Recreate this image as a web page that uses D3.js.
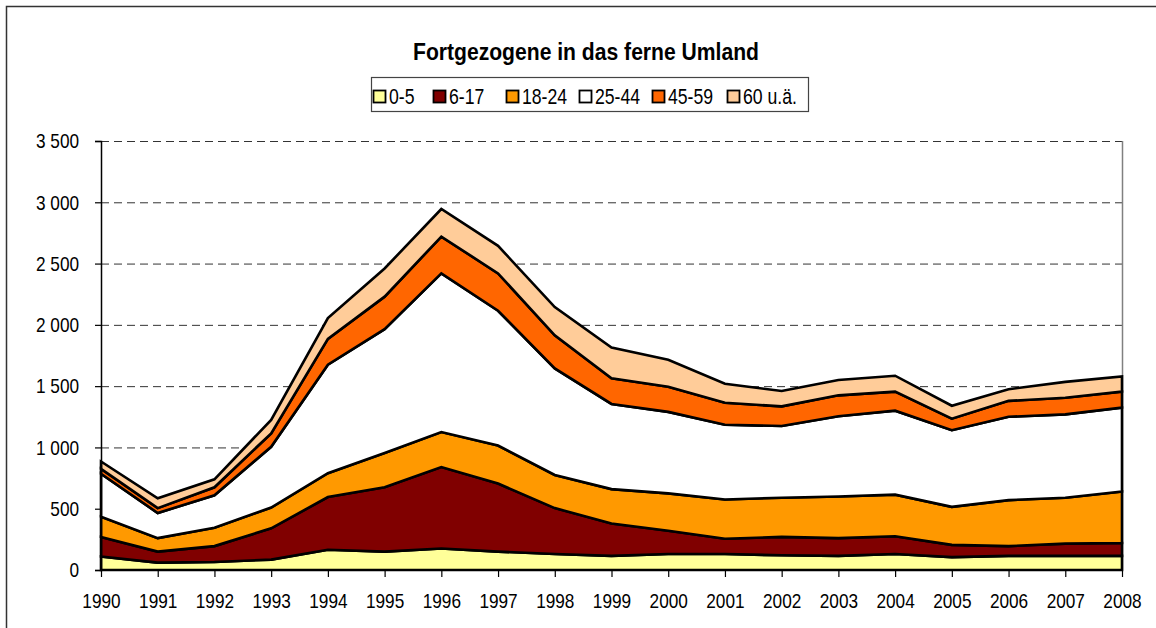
<!DOCTYPE html>
<html>
  <head>
    <meta charset="utf-8">
    <title>Fortgezogene in das ferne Umland</title>
    <style>
      body { margin: 0; background: #fff; }
      text { font-family: "Liberation Sans", Arial, sans-serif; fill: #000; }
    </style>
  </head>
  <body>
    <div><svg id='chart'/></div>
  </body>
  <script type="text/javascript" src="https://cdn.jsdelivr.net/npm/d3@7"></script>
  <script type="text/javascript">
    // Daten
    const years = ['1990', '1991', '1992', '1993', '1994', '1995', '1996', '1997', '1998', '1999',
                   '2000', '2001', '2002', '2003', '2004', '2005', '2006', '2007', '2008'];
    const groups = ['0-5', '6-17', '18-24', '25-44', '45-59', '60 u.ä.'];
    const age0to5   = [110, 60, 65, 85, 165, 150, 175, 150, 130, 115, 130, 130, 120, 115, 130, 105, 115, 115, 115];
    const age6to17  = [160, 90, 130, 255, 430, 525, 665, 555, 375, 265, 190, 125, 150, 145, 145, 100, 80, 100, 105];
    const age18to24 = [165, 110, 150, 170, 195, 280, 285, 310, 270, 280, 305, 320, 320, 340, 340, 310, 375, 375, 420];
    const age25to44 = [350, 205, 265, 495, 885, 1010, 1295, 1100, 870, 695, 665, 610, 585, 655, 685, 625, 680, 680, 685];
    const age45to59 = [40, 40, 65, 110, 210, 265, 300, 305, 270, 210, 205, 180, 160, 170, 155, 95, 130, 135, 130];
    const age60plus = [60, 80, 65, 110, 170, 230, 225, 225, 230, 250, 220, 155, 125, 125, 130, 105, 95, 130, 125];
    const yTicks = [0, 500, 1000, 1500, 2000, 2500, 3000, 3500];
    const colors = ['#ffff99', '#800000', '#ff9900', '#ffffff', '#ff6600', '#ffcc99'];

    const series = [age0to5, age6to17, age18to24, age25to44, age45to59, age60plus];
    const rows = years.map(function(y, i) {
      const r = { year: y };
      groups.forEach(function(g, k) { r[g] = series[k][i]; });
      return r;
    });

    const [width, height] = [1156, 628];
    const margin = { left: 101, right: 1122, top: 141, bottom: 570 };

    // schmale Schrift nachbilden (Arial Narrow ~ 82 % Breite)
    function narrow(sel, s) {
      sel.attr('transform', function() {
        const tx = +d3.select(this).attr('x') || 0;
        return 'translate(' + tx + ',0) scale(' + s + ',1) translate(' + (-tx) + ',0)';
      });
    }

    var svg = d3.select('#chart')
      .attr('width', width)
      .attr('height', height)

    // Rahmen
    svg.append('rect')
      .attr('x', 6.5).attr('y', 6.5)
      .attr('width', 1160).attr('height', 640)
      .attr('fill', 'none')
      .attr('stroke', '#333')
      .attr('stroke-width', 1.5)

    var x = d3.scalePoint()
      .domain(years)
      .range([margin.left, margin.right])

    var y = d3.scaleLinear()
      .domain([0, 3500])
      .range([margin.bottom, margin.top])

    // Gitterlinien
    svg.append('g')
      .selectAll('line')
      .data(yTicks.filter(d => d > 0))
      .enter()
      .append('line')
      .attr('x1', margin.left).attr('x2', margin.right)
      .attr('y1', d => y(d) + 0.5).attr('y2', d => y(d) + 0.5)
      .attr('stroke', '#333')
      .attr('stroke-dasharray', '8,5')

    // Rand rechts
    svg.append('line')
      .attr('x1', margin.right + 0.5).attr('x2', margin.right + 0.5)
      .attr('y1', margin.top).attr('y2', margin.bottom)
      .attr('stroke', '#808080')
      .attr('stroke-width', 1.5)

    // Flächen
    var stacked = d3.stack().keys(groups)(rows);
    var area = d3.area()
      .x(d => x(d.data.year))
      .y0(d => y(d[0]))
      .y1(d => y(d[1]));

    svg.append('g')
      .selectAll('path')
      .data(stacked)
      .enter()
      .append('path')
      .attr('d', area)
      .attr('fill', (d, i) => colors[i])
      .attr('stroke', '#000')
      .attr('stroke-width', 2.6)
      .attr('stroke-linejoin', 'miter')

    // Achsen
    var yAxis = svg.append('g')
      .attr('transform', 'translate(' + margin.left + ',0)')
      .call(d3.axisLeft(y)
        .tickValues(yTicks)
        .tickSize(6)
        .tickFormat(d => d3.format(',')(d).replace(',', ' ')));
    yAxis.selectAll('text').attr('x', -18 / 0.82);

    var xAxis = svg.append('g')
      .attr('transform', 'translate(0,' + margin.bottom + ')')
      .call(d3.axisBottom(x).tickSize(7).tickPadding(16));

    [xAxis, yAxis].forEach(function(a) {
      a.selectAll('path').attr('stroke', '#000').attr('stroke-width', 1.5);
      a.selectAll('line').attr('stroke', '#000').attr('stroke-width', 1.2);
      a.selectAll('text').style('font-size', '21px').call(narrow, 0.82);
    });
    xAxis.select('.domain').remove();
    svg.append('line')
      .attr('x1', margin.left).attr('x2', margin.right)
      .attr('y1', margin.bottom).attr('y2', margin.bottom)
      .attr('stroke', '#000').attr('stroke-width', 1.5)

    // Titel
    svg.append('text')
      .attr('x', 586)
      .attr('y', 60)
      .attr('text-anchor', 'middle')
      .style('font-size', '24px')
      .style('font-weight', 'bold')
      .text('Fortgezogene in das ferne Umland')
      .call(narrow, 0.88)

    // Legende
    svg.append('rect')
      .attr('x', 371.5).attr('y', 77.5)
      .attr('width', 437).attr('height', 34)
      .attr('fill', '#fff')
      .attr('stroke', '#444')
      .attr('stroke-width', 1.2)

    const legendX = [373, 433, 506, 579, 652, 727];
    var legend = svg.append('g')
      .selectAll('g')
      .data(groups)
      .enter()
      .append('g')
      .attr('transform', (d, i) => 'translate(' + legendX[i] + ',90)');

    legend.append('rect')
      .attr('x', 0.5).attr('y', 0.5)
      .attr('width', 12).attr('height', 12)
      .attr('fill', (d, i) => colors[i])
      .attr('stroke', '#000')
      .attr('stroke-width', 1.8)
    legend.append('text')
      .text(d => d)
      .attr('x', 16)
      .attr('y', 13.5)
      .style('font-size', '21.5px')
      .call(narrow, 0.82)
  </script>
</html>
